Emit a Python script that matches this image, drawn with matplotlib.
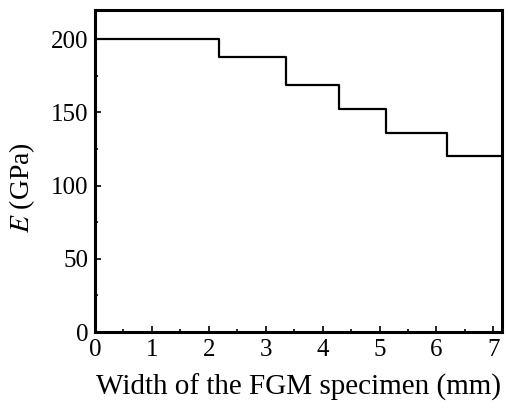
import numpy as np
import matplotlib.pyplot as plt
from matplotlib.ticker import MultipleLocator

plt.rcParams['font.family'] = 'Liberation Serif'
plt.rcParams['mathtext.fontset'] = 'stix'

# layer boundaries (mm) and modulus of each layer (GPa)
edges = [0, 2.18, 3.35, 4.29, 5.11, 6.18, 7.15]
modulus = [200, 188, 169, 152, 136, 120]

fig = plt.figure(figsize=(5.08, 4.09), dpi=100)
ax = fig.add_axes([0.187, 0.188, 0.801, 0.788])

xs = np.repeat(edges, 2)[1:-1]
ys = np.repeat(modulus, 2)
ax.plot(xs, ys, color='black', lw=1.6)

ax.set_xlim(0, 7.15)
ax.set_ylim(0, 220)
ax.xaxis.set_major_locator(MultipleLocator(1))
ax.xaxis.set_minor_locator(MultipleLocator(0.5))
ax.yaxis.set_major_locator(MultipleLocator(50))
ax.yaxis.set_minor_locator(MultipleLocator(25))
ax.tick_params(which='both', direction='in', top=False, right=False, labelsize=18, width=1.2)
ax.tick_params(which='major', length=4, pad=5)
ax.tick_params(which='minor', length=2)
for s in ax.spines.values():
    s.set_linewidth(2.2)

ax.set_xlabel('Width of the FGM specimen (mm)', fontsize=21, labelpad=9)
ax.set_ylabel('$E$ (GPa)', fontsize=20)
ax.yaxis.set_label_coords(-0.143, 0.45)

fig.savefig('out.png', dpi=100)
